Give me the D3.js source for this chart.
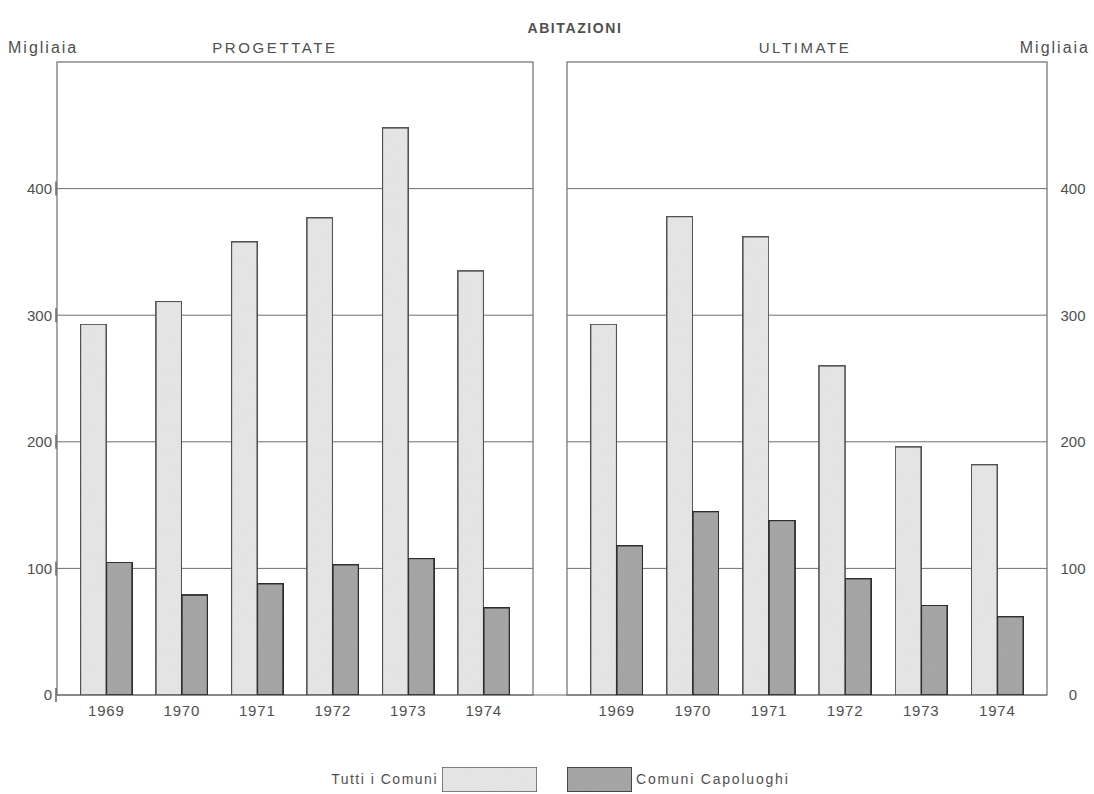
<!DOCTYPE html>
<html>
<head>
<meta charset="utf-8">
<script src="https://cdn.jsdelivr.net/npm/d3@7/dist/d3.min.js"></script>
<style>
  html, body { margin: 0; padding: 0; background: #fff; }
  svg { display: block; }
  text { font-family: "Liberation Sans", Arial, sans-serif; fill: #505050; }
</style>
</head>
<body>
<svg id="chart" width="1094" height="794"></svg>
<script>
// ---- Data ----
const years = ["1969", "1970", "1971", "1972", "1973", "1974"];
const seriesNames = ["Tutti i Comuni", "Comuni Capoluoghi"];
const progettateTutti = [293, 311, 358, 377, 448, 335];
const progettateCapoluoghi = [105, 79, 88, 103, 108, 69];
const ultimateTutti = [293, 378, 362, 260, 196, 182];
const ultimateCapoluoghi = [118, 145, 138, 92, 71, 62];
const yTicks = [0, 100, 200, 300, 400];
const panelTitles = ["PROGETTATE", "ULTIMATE"];
const mainTitle = "ABITAZIONI";
const unitLabel = "Migliaia";

// ---- Layout ----
const svg = d3.select("#chart");
const plotTop = 62, plotBottom = 695;
const panels = [
  { x0: 57, x1: 533, title: panelTitles[0], a: progettateTutti, b: progettateCapoluoghi, titleX: 275 },
  { x0: 567, x1: 1047, title: panelTitles[1], a: ultimateTutti, b: ultimateCapoluoghi, titleX: 805 }
];
const y = d3.scaleLinear().domain([0, 500]).range([plotBottom, plotTop]);
const colors = { fillA: "#e9e9e9", fillB: "#a9a9a9", strokeA: "#555", strokeB: "#333" };
const FONT = '"Liberation Sans", Arial, sans-serif';

// texture filter for bars
const defs = svg.append("defs");
const filt = defs.append("filter").attr("id", "grain").attr("x", 0).attr("y", 0).attr("width", 1).attr("height", 1);
filt.append("feTurbulence").attr("type", "fractalNoise").attr("baseFrequency", 0.9).attr("numOctaves", 2).attr("result", "n");
filt.append("feColorMatrix").attr("in", "n").attr("type", "matrix")
  .attr("values", "0 0 0 0 0  0 0 0 0 0  0 0 0 0 0  0 0 0 0.10 0").attr("result", "a");
filt.append("feComposite").attr("in", "a").attr("in2", "SourceGraphic").attr("operator", "in").attr("result", "g");
const fm = filt.append("feMerge");
fm.append("feMergeNode").attr("in", "SourceGraphic");
fm.append("feMergeNode").attr("in", "g");

// Titles
svg.append("text").attr("x", 575).attr("y", 33).attr("text-anchor", "middle")
  .style("font-size", "14px").style("font-weight", "bold").style("letter-spacing", "1.6px")
  .text(mainTitle);
svg.append("text").attr("x", 8).attr("y", 53).style("font-size", "16px").style("letter-spacing", "2px").text(unitLabel);
svg.append("text").attr("x", 1090).attr("y", 53).attr("text-anchor", "end").style("font-size", "16px").style("letter-spacing", "2px").text(unitLabel);

// full baseline
svg.append("line").attr("x1", panels[0].x0).attr("x2", panels[1].x1)
  .attr("y1", y(0)).attr("y2", y(0)).attr("stroke", "#666").attr("stroke-width", 1.2);

panels.forEach((p, pi) => {
  const g = svg.append("g");
  const x = d3.scaleBand().domain(years).range([p.x0, p.x1]).paddingInner(0.314).paddingOuter(0.31);
  const xs = d3.scaleBand().domain(seriesNames).range([0, x.bandwidth()]);

  // gridlines
  g.selectAll("line.grid").data(yTicks.filter(t => t > 0)).join("line")
    .attr("x1", p.x0).attr("x2", p.x1)
    .attr("y1", d => y(d)).attr("y2", d => y(d))
    .attr("stroke", "#6e6e6e").attr("stroke-width", 1);

  // panel frame
  g.append("rect").attr("x", p.x0).attr("y", plotTop).attr("width", p.x1 - p.x0).attr("height", plotBottom - plotTop)
    .attr("fill", "none").attr("stroke", "#6e6e6e").attr("stroke-width", 1.2);

  // panel title
  svg.append("text").attr("x", p.titleX).attr("y", 53).attr("text-anchor", "middle")
    .style("font-size", "15px").style("letter-spacing", "2.6px").text(p.title);

  // bars
  const rows = years.map((yr, i) => ({ yr, a: p.a[i], b: p.b[i] }));
  const grp = g.selectAll("g.yr").data(rows).join("g").attr("transform", d => `translate(${x(d.yr)},0)`);
  grp.append("rect").attr("x", xs(seriesNames[0])).attr("width", xs.bandwidth())
    .attr("y", d => y(d.a)).attr("height", d => y(0) - y(d.a))
    .attr("fill", colors.fillA).attr("stroke", colors.strokeA).attr("stroke-width", 1.6).attr("filter", "url(#grain)");
  grp.append("rect").attr("x", xs(seriesNames[1])).attr("width", xs.bandwidth())
    .attr("y", d => y(d.b)).attr("height", d => y(0) - y(d.b))
    .attr("fill", colors.fillB).attr("stroke", colors.strokeB).attr("stroke-width", 1.8).attr("filter", "url(#grain)");

  // x axis labels
  const xa = d3.axisBottom(x).tickSize(0).tickPadding(0);
  const xg = svg.append("g").attr("transform", `translate(0,${plotBottom + 10})`).call(xa);
  xg.select(".domain").remove();
  xg.selectAll("text").style("font-size", "15px").style("fill", "#505050").style("letter-spacing", "0.8px")
    .style("font-family", FONT).attr("dy", "0.71em");

  // y axis labels
  if (pi === 0) {
    const ya = d3.axisLeft(y).tickValues(yTicks).tickSize(0).tickPadding(5);
    const yg = svg.append("g").attr("transform", `translate(${p.x0},0)`).call(ya);
    yg.select(".domain").remove();
    yg.selectAll("text").style("font-size", "15px").style("fill", "#505050")
      .style("font-family", FONT);
    svg.selectAll("line.ltick").data(yTicks).join("line")
      .attr("x1", p.x0 - 1).attr("x2", p.x0 - 1)
      .attr("y1", d => y(d) - 7).attr("y2", d => y(d) + 7)
      .attr("stroke", "#666").attr("stroke-width", 1.5);
  } else {
    const ya = d3.axisRight(y).tickValues(yTicks).tickSize(0).tickPadding(26);
    const yg = svg.append("g").attr("transform", `translate(${p.x1},0)`).call(ya);
    yg.select(".domain").remove();
    yg.selectAll("text").attr("text-anchor", "middle").style("font-size", "15px").style("fill", "#505050")
      .style("font-family", FONT);
  }
});

// legend
const leg = svg.append("g");
leg.append("text").attr("x", 438).attr("y", 784).attr("text-anchor", "end")
  .style("font-size", "14px").style("letter-spacing", "1.5px").text(seriesNames[0]);
leg.append("rect").attr("x", 442).attr("y", 767).attr("width", 95).attr("height", 25)
  .attr("fill", colors.fillA).attr("stroke", colors.strokeA).attr("stroke-width", 1.4).attr("filter", "url(#grain)");
leg.append("rect").attr("x", 567).attr("y", 767).attr("width", 65).attr("height", 25)
  .attr("fill", colors.fillB).attr("stroke", colors.strokeB).attr("stroke-width", 1.6).attr("filter", "url(#grain)");
leg.append("text").attr("x", 636).attr("y", 784).attr("text-anchor", "start")
  .style("font-size", "14px").style("letter-spacing", "1.8px").text(seriesNames[1]);
</script>
</body>
</html>
